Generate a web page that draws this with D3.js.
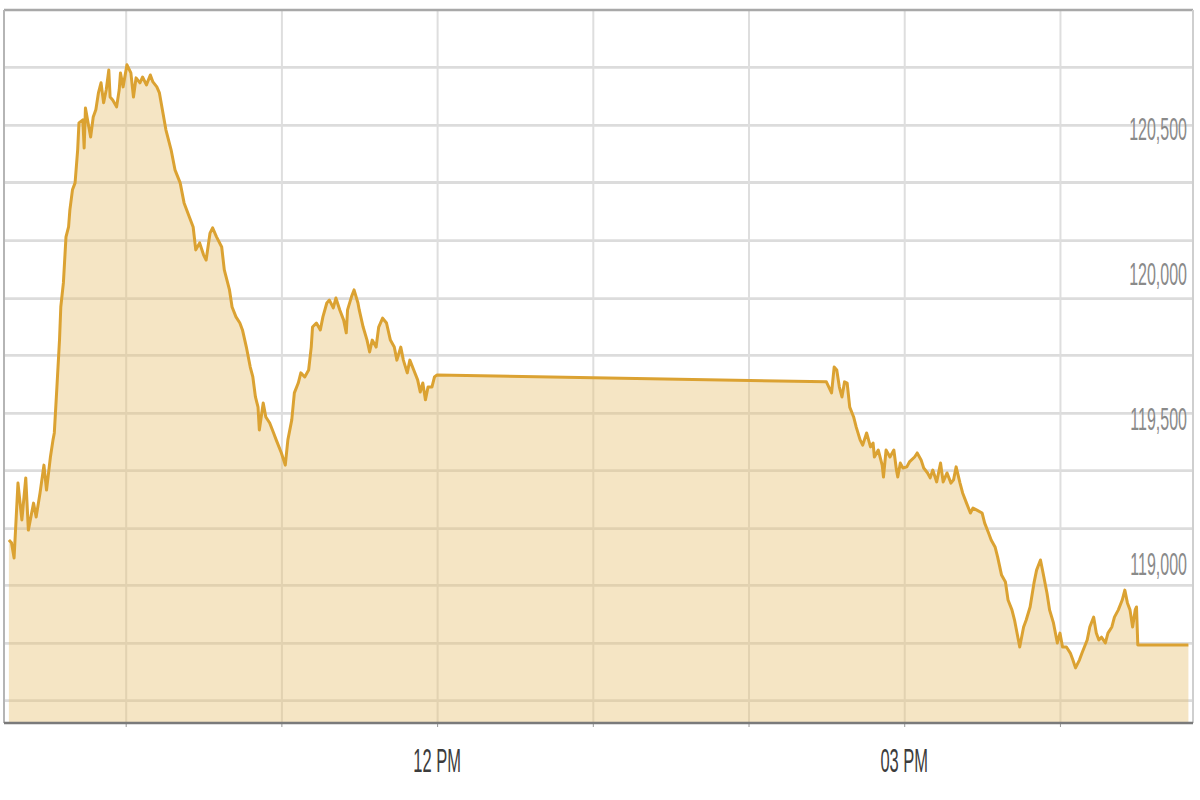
<!DOCTYPE html>
<html><head><meta charset="utf-8">
<script src="https://cdn.jsdelivr.net/npm/d3@7"></script>
<style>html,body{margin:0;padding:0;background:#fff;} svg{display:block;}</style>
</head><body><svg id="chart" width="1200" height="800"></svg>
<script>
const times = ["09:15","09:16","09:17","09:18:30","09:20","09:21:30","09:22:30","09:24:30","09:25:30","09:27","09:28:30","09:29:30","09:31","09:32","09:32:30","09:33:30","09:34:30","09:35","09:36","09:37","09:38","09:38:30","09:39:30","09:40:30","09:41:30","09:42","09:43:30","09:44","09:44:30","09:45:30","09:46:30","09:47:30","09:48:30","09:49:30","09:50:30","09:51:30","09:52:30","09:53:30","09:54","09:55","09:56:30","09:57:30","09:58","09:59","10:00:30","10:02","10:03","10:04","10:05:30","10:06:30","10:08","10:09:30","10:10:30","10:12","10:13","10:14:30","10:15:30","10:17:30","10:19","10:21","10:22:30","10:24:30","10:26","10:27","10:28:30","10:30","10:31","10:32:30","10:33:30","10:35","10:37","10:38","10:40","10:41","10:42:30","10:44","10:45","10:46:30","10:48","10:49","10:50","10:51","10:51:30","10:53","10:54","10:55:30","10:57","10:58","11:00","11:01:30","11:02:30","11:04","11:05","11:06:30","11:07:30","11:09","11:10:30","11:11:30","11:12","11:13:30","11:15","11:16","11:17:30","11:18:30","11:20","11:21","11:22:30","11:24","11:25","11:25:30","11:27","11:28","11:29:30","11:30","11:31:30","11:33","11:34","11:35","11:36:30","11:37:30","11:39","11:40:30","11:42","11:43:30","11:44:30","11:46","11:47","11:48:30","11:49:30","11:51","11:52:30","11:53:30","11:54:30","11:55:30","11:56:30","11:58","11:59","12:00","14:30","14:32","14:33","14:34","14:35","14:36","14:37","14:38","14:39","14:40:30","14:41:30","14:43","14:44","14:45:30","14:47","14:48","14:48:30","14:50","14:51:30","14:52","14:53","14:54:30","14:56","14:57","14:57:30","14:58:30","14:59:30","15:01","15:02","15:04","15:05","15:06:30","15:07:30","15:09","15:10","15:11","15:12:30","15:14","15:15","15:16:30","15:18","15:19","15:20","15:21:30","15:22:30","15:24","15:25:30","15:26:30","15:28","15:30","15:31","15:32:30","15:33:30","15:35","15:36","15:37:30","15:39","15:40","15:41:30","15:42:30","15:44:30","15:46","15:47","15:48:30","15:50","15:51","15:52:30","15:53:30","15:55","15:56","15:57:30","15:59","16:00","16:01","16:02:30","16:04","16:05","16:06","16:07:30","16:08:30","16:10:30","16:11:30","16:13","16:14","16:15","16:16","16:17:30","16:18:30","16:20","16:21","16:22:30","16:24","16:25","16:26","16:27","16:28","16:29","16:29:30","16:30","16:49:30"];
const values = [119083,119073,119021,119279,119152,119297,119117,119210,119162,119245,119341,119255,119369,119428,119452,119610,119772,119886,119969,120128,120162,120221,120290,120314,120428,120521,120531,120434,120572,120521,120472,120541,120566,120624,120659,120590,120634,120703,120610,120600,120576,120634,120693,120645,120721,120693,120610,120676,120659,120679,120652,120686,120662,120645,120624,120548,120497,120428,120359,120314,120245,120197,120162,120083,120107,120066,120048,120141,120159,120128,120093,120014,119945,119886,119852,119831,119807,119748,119679,119645,119576,119541,119462,119555,119507,119486,119452,119428,119383,119341,119428,119497,119590,119624,119659,119645,119669,119748,119817,119831,119807,119852,119900,119910,119883,119917,119876,119841,119797,119876,119921,119945,119900,119876,119817,119772,119731,119772,119748,119817,119848,119831,119772,119748,119703,119748,119703,119659,119703,119669,119635,119593,119624,119566,119610,119610,119645,119652,119628,119590,119679,119669,119610,119576,119628,119624,119541,119507,119472,119428,119410,119452,119404,119417,119369,119393,119341,119300,119393,119369,119393,119324,119300,119348,119331,119335,119352,119369,119383,119359,119331,119314,119297,119324,119283,119348,119283,119314,119279,119290,119335,119279,119245,119210,119176,119193,119186,119176,119141,119107,119083,119059,119024,118962,118938,118876,118842,118807,118714,118783,118807,118852,118935,118979,119014,118969,118900,118842,118797,118728,118762,118714,118714,118693,118669,118642,118669,118693,118738,118783,118817,118762,118738,118748,118728,118762,118783,118817,118842,118876,118910,118866,118842,118783,118842,118852,118721,118721];

const yLabelValues = [119000, 119500, 120000, 120500];
const yGridValues = [118531, 118728, 118928, 119124, 119324, 119521, 119721, 119917, 120117, 120317, 120514, 120714];
const xGridTimes = ["10:00","11:00","12:00","13:00","14:00","15:00","16:00"];
const xLabelTimes = ["12:00","15:00"];
const xDomainTimes = ["09:13:30","16:50:30"];
const yDomain = [118452, 120910];

const parseFull = d3.timeParse("%H:%M:%S");
const parse = s => parseFull(s.length === 5 ? s + ":00" : s);
const data = times.map((t, i) => ({ t: parse(t), v: values[i] }));

const pL = 4, pR = 1193, pT = 10, pB = 723;
const x = d3.scaleTime().domain(xDomainTimes.map(parse)).range([5, 1191]);
const y = d3.scaleLinear().domain(yDomain).range([pB, pT]);

const svg = d3.select("#chart");
const font = "'Liberation Sans', Arial, sans-serif";

// horizontal gridlines
svg.append("g").attr("transform", `translate(${pL},0)`)
  .call(d3.axisLeft(y).tickValues(yGridValues).tickSize(-(pR - pL)).tickFormat(""))
  .call(g => g.select(".domain").remove())
  .call(g => g.selectAll(".tick line").attr("stroke", "#dcdcdc").attr("stroke-width", 2.8));

// vertical gridlines
svg.append("g").attr("transform", `translate(0,${pB})`)
  .call(d3.axisBottom(x).tickValues(xGridTimes.map(parse)).tickSize(-(pB - pT)).tickFormat(""))
  .call(g => g.select(".domain").remove())
  .call(g => g.selectAll(".tick line").attr("stroke", "#dedede").attr("stroke-width", 2));

// small tick marks under the axis
svg.append("g").attr("transform", `translate(0,${pB})`)
  .call(d3.axisBottom(x).tickValues(xGridTimes.map(parse)).tickSize(4).tickFormat(""))
  .call(g => g.select(".domain").remove())
  .call(g => g.selectAll(".tick line").attr("stroke", "#999").attr("stroke-width", 1));

// area
const area = d3.area().x(d => x(d.t)).y0(pB).y1(d => y(d.v));
svg.append("path").datum(data).attr("d", area)
  .attr("fill", "#e8c272").attr("fill-opacity", 0.42);

// line
const line = d3.line().x(d => x(d.t)).y(d => y(d.v));
svg.append("path").datum(data).attr("d", line)
  .attr("fill", "none").attr("stroke", "#dba232").attr("stroke-width", 3)
  .attr("stroke-linejoin", "round");

// frame
svg.append("line").attr("x1", pL).attr("x2", pR).attr("y1", pT).attr("y2", pT)
  .attr("stroke", "#a8a8a8").attr("stroke-width", 2.5);
svg.append("line").attr("x1", pL).attr("x2", pL).attr("y1", pT).attr("y2", pB)
  .attr("stroke", "#b5b5b5").attr("stroke-width", 2);
svg.append("line").attr("x1", pR).attr("x2", pR).attr("y1", pT).attr("y2", pB)
  .attr("stroke", "#cfcfcf").attr("stroke-width", 2);
svg.append("line").attr("x1", pL).attr("x2", pR).attr("y1", pB).attr("y2", pB)
  .attr("stroke", "#7a7a7a").attr("stroke-width", 2.5);

// y labels
const fmt = d3.format(",");
svg.append("g").selectAll("g").data(yLabelValues).join("g")
  .attr("transform", d => `translate(1187,${y(d)}) scale(1,1.95)`)
  .append("text")
  .attr("text-anchor", "end").attr("dominant-baseline", "central")
  .attr("font-family", font).attr("font-size", 16).attr("fill", "#8a8a8a")
  .text(d => fmt(d));

// x labels
const tfmt = d3.timeFormat("%I %p");
svg.append("g").selectAll("g").data(xLabelTimes.map(parse)).join("g")
  .attr("transform", d => `translate(${x(d)},761) scale(1,2.05)`)
  .append("text")
  .attr("text-anchor", "middle").attr("dominant-baseline", "central")
  .attr("font-family", font).attr("font-size", 16.5).attr("fill", "#3c3c3c")
  .text(d => tfmt(d));
</script>
</body></html>
